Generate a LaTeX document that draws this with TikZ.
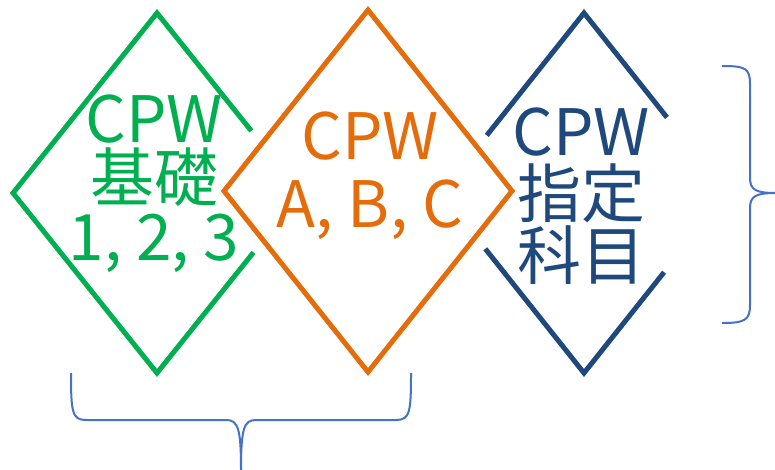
\documentclass[tikz,border=0pt]{standalone}
\usepackage{fontspec}
\setmainfont{Noto Sans CJK JP}
\usetikzlibrary{calc}
\definecolor{cgreen}{HTML}{00B050}
\definecolor{corange}{HTML}{E46C0A}
\definecolor{cblue}{HTML}{1F497D}
\definecolor{cbrace}{HTML}{4472C4}
\begin{document}
\begin{tikzpicture}[x=1pt,y=-1pt,
  diam/.style={line width=5pt, miter limit=10},
  lbl/.style={align=center, inner sep=0pt},
  brace/.style={cbrace, line width=2pt}]
\useasboundingbox (0,0) rectangle (775,469);
% diamond vertices
\coordinate (gT) at (157,13);  \coordinate (gL) at (13,193);
\coordinate (gB) at (157,373); \coordinate (gR) at (301,193);
\coordinate (oT) at (368,10);  \coordinate (oL) at (224,191);
\coordinate (oB) at (368,372); \coordinate (oR) at (512,191);
\coordinate (bT) at (584,13);  \coordinate (bL) at (441,193);
\coordinate (bB) at (584,373); \coordinate (bR) at (727,193);
% green diamond (partly hidden)
\draw[diam, cgreen] ($(gT)!0.655!(gR)$) -- (gT) -- (gL) -- (gB) -- ($(gB)!0.67!(gR)$);
% blue diamond (partly hidden)
\draw[diam, cblue] ($(bL)!0.32!(bT)$) -- (bT) -- ($(bT)!0.58!(bR)$);
\draw[diam, cblue] ($(bL)!0.31!(bB)$) -- (bB) -- ($(bB)!0.56!(bR)$);
% orange diamond
\draw[diam, corange] (oT) -- (oR) -- (oB) -- (oL) -- cycle;
% labels
\node[lbl, text=cgreen, font=\fontsize{64}{59}\selectfont] (gtxt) at (154,184) {CPW\\基礎\\1, 2, 3};
\node[lbl, text=corange, font=\fontsize{64}{68}\selectfont] (otxt) at (370,176) {CPW\\A, B, C};
\node[lbl, text=cblue, font=\fontsize{64}{62}\selectfont] (btxt) at (581,196) {CPW\\指定\\科目};
% braces
\coordinate (b1a) at (71,373); \coordinate (b1b) at (411,373); \coordinate (b1t) at (241,470);
\draw[brace] (b1a) .. controls (71,412) and (72,420) .. (86,420) -- (226,420) .. controls (238,420) and (241,428) .. (b1t);
\draw[brace] (b1b) .. controls (411,412) and (410,420) .. (396,420) -- (256,420) .. controls (244,420) and (241,428) .. (b1t);
\coordinate (b2a) at (722,66); \coordinate (b2b) at (722,323); \coordinate (b2t) at (776,193);
\draw[brace] (b2a) .. controls (745,66) and (750,68) .. (750,84) -- (750,178) .. controls (750,190) and (756,193) .. (b2t);
\draw[brace] (b2b) .. controls (745,323) and (750,320) .. (750,305) -- (750,208) .. controls (750,196) and (756,193) .. (b2t);
\end{tikzpicture}
\end{document}
